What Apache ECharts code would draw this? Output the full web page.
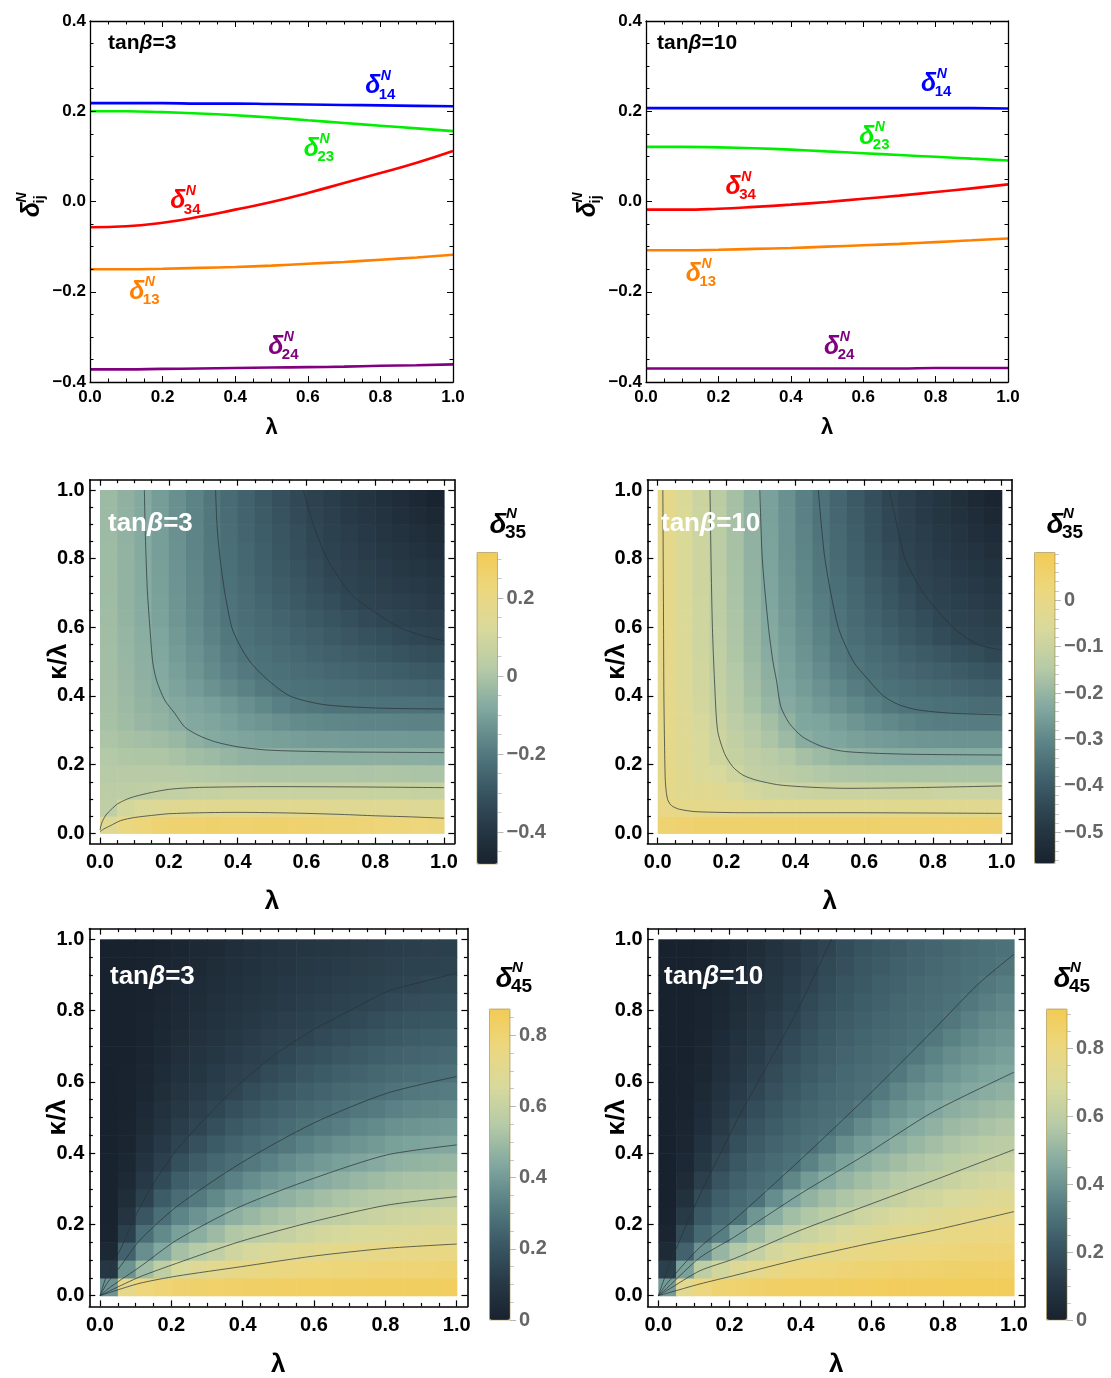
<!DOCTYPE html>
<html><head><meta charset="utf-8">
<script src="https://cdn.jsdelivr.net/npm/echarts@6/dist/echarts.min.js"></script>
<style>html,body{margin:0;padding:0;background:#fff}#c{width:1111px;height:1378px}</style>
</head><body><div id="c"></div>
<script>
// ---------------- DATA ----------------
const lamLine = [0,0.1,0.2,0.3,0.4,0.5,0.6,0.7,0.8,0.9,1.0];
// tan(beta)=3 line panel
const tb3_d14 = [0.218,0.218,0.218,0.217,0.217,0.216,0.215,0.214,0.213,0.212,0.211];
const tb3_d23 = [0.200,0.200,0.198,0.195,0.191,0.186,0.180,0.174,0.168,0.162,0.156];
const tb3_d34 = [-0.057,-0.055,-0.047,-0.034,-0.018,-0.001,0.019,0.041,0.063,0.086,0.112];
const tb3_d13 = [-0.150,-0.150,-0.149,-0.147,-0.145,-0.142,-0.138,-0.134,-0.129,-0.124,-0.118];
const tb3_d24 = [-0.372,-0.372,-0.371,-0.370,-0.369,-0.368,-0.367,-0.366,-0.364,-0.363,-0.361];
// tan(beta)=10 line panel
const tb10_d14 = [0.207,0.207,0.207,0.207,0.207,0.207,0.207,0.207,0.207,0.207,0.206];
const tb10_d23 = [0.121,0.121,0.120,0.118,0.115,0.111,0.107,0.103,0.099,0.095,0.091];
const tb10_d34 = [-0.018,-0.018,-0.016,-0.012,-0.007,-0.001,0.006,0.013,0.021,0.029,0.038];
const tb10_d13 = [-0.108,-0.108,-0.107,-0.105,-0.103,-0.100,-0.097,-0.094,-0.090,-0.086,-0.082];
const tb10_d24 = [-0.370,-0.370,-0.370,-0.370,-0.370,-0.370,-0.370,-0.370,-0.369,-0.369,-0.369];
const lineSubs = ['14','23','34','13','24'];
const tb3_labX = [0.779,0.61,0.242,0.129,0.512];
const tb3_labY = [0.255,0.117,0.0,-0.200,-0.322];
const tb10_labX = [0.781,0.61,0.241,0.131,0.513];
const tb10_labY = [0.261,0.143,0.032,-0.161,-0.322];

// density cells (cell centres for lambda and kappa/lambda)
const cellC = [0.025,0.075,0.125,0.175,0.225,0.275,0.325,0.375,0.425,0.475,0.525,0.575,0.625,0.675,0.725,0.775,0.825,0.875,0.925,0.975];

// delta35, tanb=3 : rows = kappa/lambda (bottom->top), columns = lambda
const d35_tb3_rows = [
[0.15,0.209,0.232,0.247,0.255,0.26,0.264,0.262,0.262,0.264,0.263,0.259,0.255,0.25,0.247,0.24,0.235,0.23,0.227,0.224],
[0.045,0.106,0.126,0.143,0.151,0.155,0.158,0.16,0.161,0.159,0.158,0.156,0.155,0.153,0.151,0.149,0.147,0.145,0.143,0.141],
[0.036,0.041,0.045,0.051,0.055,0.062,0.067,0.071,0.072,0.073,0.072,0.072,0.071,0.071,0.071,0.07,0.07,0.069,0.067,0.065],
[0.024,0.025,0.026,0.027,0.024,0.018,0.015,0.01,0.007,0.005,0.005,0.004,0.003,0.003,0.003,0.002,0.004,0.002,0.0,-0.002],
[0.013,0.008,0.004,0.003,-0.006,-0.021,-0.03,-0.044,-0.054,-0.056,-0.058,-0.06,-0.061,-0.061,-0.062,-0.063,-0.063,-0.064,-0.066,-0.067],
[0.001,-0.008,-0.016,-0.024,-0.038,-0.06,-0.076,-0.085,-0.093,-0.099,-0.105,-0.109,-0.113,-0.115,-0.117,-0.118,-0.118,-0.12,-0.121,-0.122],
[-0.01,-0.025,-0.04,-0.052,-0.067,-0.083,-0.09,-0.103,-0.118,-0.129,-0.143,-0.153,-0.159,-0.165,-0.168,-0.17,-0.171,-0.172,-0.174,-0.174],
[-0.012,-0.029,-0.047,-0.06,-0.082,-0.093,-0.104,-0.121,-0.142,-0.16,-0.182,-0.196,-0.206,-0.214,-0.216,-0.217,-0.221,-0.221,-0.221,-0.222],
[-0.015,-0.035,-0.054,-0.074,-0.095,-0.115,-0.136,-0.157,-0.178,-0.198,-0.214,-0.219,-0.223,-0.228,-0.232,-0.237,-0.241,-0.246,-0.25,-0.255],
[-0.017,-0.038,-0.059,-0.08,-0.104,-0.128,-0.153,-0.177,-0.201,-0.217,-0.224,-0.231,-0.238,-0.246,-0.253,-0.26,-0.267,-0.275,-0.282,-0.289],
[-0.019,-0.041,-0.063,-0.085,-0.111,-0.137,-0.163,-0.19,-0.214,-0.224,-0.234,-0.244,-0.254,-0.264,-0.273,-0.283,-0.293,-0.303,-0.313,-0.323],
[-0.021,-0.044,-0.066,-0.091,-0.119,-0.146,-0.174,-0.202,-0.22,-0.233,-0.245,-0.257,-0.27,-0.282,-0.294,-0.306,-0.319,-0.331,-0.343,-0.351],
[-0.023,-0.047,-0.071,-0.097,-0.126,-0.154,-0.183,-0.211,-0.227,-0.241,-0.256,-0.271,-0.286,-0.301,-0.316,-0.331,-0.345,-0.353,-0.359,-0.366],
[-0.025,-0.049,-0.072,-0.099,-0.128,-0.158,-0.187,-0.215,-0.232,-0.25,-0.268,-0.285,-0.303,-0.321,-0.338,-0.351,-0.358,-0.366,-0.373,-0.381],
[-0.026,-0.05,-0.074,-0.102,-0.132,-0.162,-0.192,-0.219,-0.238,-0.257,-0.276,-0.295,-0.314,-0.334,-0.35,-0.359,-0.368,-0.378,-0.387,-0.396],
[-0.027,-0.051,-0.075,-0.105,-0.135,-0.166,-0.196,-0.222,-0.243,-0.264,-0.285,-0.305,-0.326,-0.347,-0.358,-0.368,-0.379,-0.39,-0.4,-0.411],
[-0.028,-0.052,-0.076,-0.106,-0.137,-0.169,-0.2,-0.226,-0.248,-0.27,-0.292,-0.314,-0.336,-0.353,-0.365,-0.378,-0.39,-0.402,-0.415,-0.427],
[-0.029,-0.053,-0.077,-0.108,-0.139,-0.171,-0.202,-0.228,-0.252,-0.275,-0.298,-0.321,-0.345,-0.359,-0.373,-0.387,-0.401,-0.414,-0.428,-0.442],
[-0.03,-0.054,-0.078,-0.109,-0.14,-0.172,-0.204,-0.231,-0.255,-0.28,-0.305,-0.33,-0.352,-0.367,-0.382,-0.397,-0.412,-0.427,-0.442,-0.457],
[-0.03,-0.055,-0.078,-0.109,-0.141,-0.173,-0.206,-0.233,-0.259,-0.285,-0.311,-0.337,-0.358,-0.374,-0.39,-0.406,-0.423,-0.439,-0.455,-0.472]
];
// delta35, tanb=10 : rows = kappa/lambda, columns = lambda
const d35_tb10_rows = [
[0.045,0.053,0.058,0.059,0.059,0.059,0.059,0.059,0.059,0.059,0.059,0.058,0.058,0.057,0.056,0.056,0.055,0.054,0.054,0.052],
[0.0,-0.012,-0.013,-0.016,-0.02,-0.023,-0.025,-0.026,-0.027,-0.027,-0.027,-0.027,-0.028,-0.028,-0.028,-0.028,-0.029,-0.029,-0.029,-0.029],
[-0.01,-0.026,-0.03,-0.035,-0.05,-0.073,-0.088,-0.092,-0.095,-0.097,-0.097,-0.097,-0.098,-0.098,-0.098,-0.098,-0.099,-0.099,-0.099,-0.099],
[-0.008,-0.026,-0.05,-0.065,-0.087,-0.116,-0.124,-0.132,-0.143,-0.152,-0.158,-0.161,-0.163,-0.163,-0.163,-0.163,-0.163,-0.163,-0.163,-0.163],
[-0.008,-0.034,-0.06,-0.086,-0.107,-0.125,-0.138,-0.152,-0.172,-0.188,-0.2,-0.21,-0.217,-0.222,-0.224,-0.224,-0.225,-0.225,-0.225,-0.225],
[-0.008,-0.036,-0.063,-0.09,-0.118,-0.14,-0.161,-0.187,-0.22,-0.232,-0.239,-0.248,-0.256,-0.261,-0.267,-0.27,-0.273,-0.274,-0.274,-0.274],
[-0.009,-0.04,-0.068,-0.098,-0.13,-0.152,-0.175,-0.206,-0.235,-0.241,-0.254,-0.27,-0.285,-0.296,-0.308,-0.315,-0.32,-0.321,-0.322,-0.322],
[-0.01,-0.044,-0.078,-0.111,-0.14,-0.169,-0.197,-0.226,-0.245,-0.262,-0.28,-0.297,-0.315,-0.332,-0.343,-0.346,-0.349,-0.353,-0.356,-0.359],
[-0.01,-0.046,-0.081,-0.116,-0.147,-0.177,-0.208,-0.235,-0.256,-0.278,-0.299,-0.32,-0.341,-0.348,-0.354,-0.361,-0.368,-0.374,-0.381,-0.388],
[-0.01,-0.047,-0.083,-0.12,-0.151,-0.183,-0.215,-0.242,-0.266,-0.29,-0.315,-0.339,-0.35,-0.359,-0.369,-0.379,-0.388,-0.398,-0.407,-0.417],
[-0.011,-0.048,-0.085,-0.122,-0.156,-0.189,-0.222,-0.249,-0.275,-0.3,-0.326,-0.346,-0.359,-0.371,-0.384,-0.397,-0.409,-0.422,-0.434,-0.447],
[-0.011,-0.049,-0.087,-0.125,-0.16,-0.194,-0.228,-0.255,-0.282,-0.309,-0.336,-0.354,-0.37,-0.386,-0.403,-0.419,-0.435,-0.451,-0.457,-0.462],
[-0.011,-0.05,-0.088,-0.127,-0.162,-0.198,-0.232,-0.26,-0.288,-0.316,-0.343,-0.361,-0.379,-0.397,-0.415,-0.433,-0.451,-0.46,-0.467,-0.474],
[-0.011,-0.05,-0.089,-0.129,-0.165,-0.201,-0.235,-0.264,-0.293,-0.321,-0.347,-0.367,-0.387,-0.407,-0.427,-0.447,-0.459,-0.468,-0.477,-0.486],
[-0.011,-0.051,-0.09,-0.13,-0.167,-0.203,-0.238,-0.267,-0.297,-0.326,-0.352,-0.373,-0.395,-0.416,-0.438,-0.456,-0.466,-0.477,-0.487,-0.498],
[-0.011,-0.051,-0.091,-0.131,-0.169,-0.206,-0.241,-0.271,-0.301,-0.332,-0.357,-0.381,-0.404,-0.427,-0.451,-0.463,-0.475,-0.486,-0.498,-0.51],
[-0.011,-0.051,-0.092,-0.132,-0.17,-0.208,-0.243,-0.274,-0.305,-0.336,-0.362,-0.386,-0.411,-0.436,-0.457,-0.47,-0.483,-0.496,-0.509,-0.522],
[-0.011,-0.052,-0.093,-0.133,-0.171,-0.209,-0.244,-0.276,-0.308,-0.34,-0.366,-0.391,-0.417,-0.443,-0.462,-0.476,-0.491,-0.505,-0.52,-0.534],
[-0.011,-0.052,-0.094,-0.134,-0.172,-0.211,-0.246,-0.278,-0.311,-0.343,-0.369,-0.395,-0.421,-0.448,-0.466,-0.482,-0.498,-0.515,-0.531,-0.547],
[-0.012,-0.053,-0.095,-0.135,-0.173,-0.212,-0.247,-0.28,-0.313,-0.345,-0.372,-0.399,-0.427,-0.454,-0.471,-0.488,-0.505,-0.522,-0.54,-0.557]
];
// delta45, tanb=3 : columns = lambda (left->right), entries = kappa/lambda (bottom->top)
const d45_tb3_cols = [
[0.38,0.094,0.026,0.008,0.005,0.004,0.003,0.003,0.002,0.002,0.002,0.001,0.001,0.001,0.001,0.001,0.0,0.0,0.0,0.0],
[0.728,0.382,0.244,0.133,0.085,0.054,0.034,0.022,0.014,0.009,0.006,0.004,0.003,0.002,0.001,0.001,0.001,0.001,0.0,0.0],
[0.778,0.5,0.37,0.281,0.206,0.138,0.104,0.078,0.059,0.044,0.033,0.025,0.019,0.014,0.011,0.008,0.006,0.005,0.003,0.003],
[0.796,0.582,0.437,0.356,0.28,0.224,0.168,0.128,0.103,0.083,0.067,0.053,0.043,0.035,0.028,0.022,0.018,0.014,0.012,0.009],
[0.808,0.655,0.515,0.416,0.34,0.275,0.231,0.186,0.143,0.12,0.1,0.084,0.07,0.059,0.049,0.041,0.034,0.029,0.024,0.02],
[0.815,0.687,0.55,0.456,0.381,0.312,0.264,0.225,0.187,0.148,0.126,0.108,0.092,0.079,0.067,0.057,0.049,0.042,0.036,0.031],
[0.82,0.712,0.58,0.496,0.418,0.354,0.291,0.256,0.22,0.185,0.15,0.129,0.112,0.097,0.084,0.073,0.063,0.055,0.048,0.041],
[0.826,0.732,0.626,0.537,0.46,0.394,0.334,0.281,0.248,0.215,0.182,0.149,0.13,0.114,0.1,0.088,0.077,0.068,0.06,0.052],
[0.83,0.745,0.648,0.558,0.487,0.42,0.364,0.308,0.269,0.237,0.206,0.174,0.144,0.128,0.113,0.1,0.089,0.079,0.07,0.062],
[0.834,0.755,0.668,0.578,0.511,0.444,0.388,0.334,0.285,0.255,0.226,0.196,0.167,0.141,0.126,0.112,0.1,0.09,0.08,0.071],
[0.836,0.762,0.682,0.597,0.53,0.466,0.409,0.358,0.306,0.271,0.243,0.214,0.186,0.157,0.137,0.123,0.11,0.099,0.089,0.08],
[0.839,0.771,0.698,0.618,0.549,0.487,0.428,0.381,0.334,0.288,0.26,0.232,0.205,0.177,0.149,0.133,0.12,0.108,0.098,0.088],
[0.841,0.778,0.712,0.639,0.569,0.509,0.449,0.4,0.354,0.308,0.274,0.247,0.22,0.192,0.165,0.142,0.128,0.116,0.105,0.095],
[0.843,0.782,0.72,0.651,0.582,0.524,0.466,0.415,0.371,0.326,0.286,0.259,0.232,0.205,0.178,0.151,0.135,0.123,0.112,0.101],
[0.844,0.785,0.727,0.662,0.596,0.538,0.483,0.429,0.386,0.343,0.3,0.27,0.244,0.217,0.191,0.164,0.142,0.129,0.118,0.107],
[0.845,0.789,0.734,0.672,0.609,0.552,0.498,0.445,0.401,0.359,0.317,0.281,0.256,0.23,0.204,0.178,0.153,0.137,0.125,0.114],
[0.846,0.792,0.739,0.68,0.62,0.564,0.513,0.462,0.416,0.375,0.334,0.293,0.267,0.241,0.215,0.19,0.164,0.142,0.13,0.119],
[0.847,0.795,0.743,0.686,0.628,0.572,0.522,0.472,0.425,0.385,0.345,0.305,0.274,0.249,0.224,0.198,0.173,0.148,0.135,0.124],
[0.847,0.796,0.745,0.691,0.634,0.578,0.528,0.478,0.43,0.391,0.352,0.313,0.28,0.255,0.229,0.204,0.179,0.154,0.138,0.126],
[0.848,0.798,0.748,0.695,0.64,0.584,0.534,0.484,0.435,0.396,0.358,0.319,0.285,0.26,0.234,0.209,0.184,0.159,0.14,0.129]
];
// delta45, tanb=10 : columns = lambda, entries = kappa/lambda
const d45_tb10_cols = [
[0.422,0.135,0.041,0.013,0.004,0.001,0.001,0.0,0.0,0.0,0.0,0.0,0.0,0.0,0.0,0.0,0.0,0.0,0.0,0.0],
[0.743,0.438,0.257,0.177,0.112,0.072,0.047,0.03,0.019,0.012,0.008,0.005,0.003,0.002,0.001,0.001,0.0,0.0,0.0,0.0],
[0.806,0.599,0.397,0.275,0.226,0.177,0.133,0.1,0.076,0.058,0.044,0.033,0.025,0.019,0.014,0.011,0.008,0.006,0.005,0.004],
[0.834,0.663,0.503,0.339,0.277,0.241,0.206,0.17,0.137,0.112,0.091,0.074,0.06,0.049,0.039,0.032,0.026,0.021,0.017,0.014],
[0.851,0.715,0.57,0.449,0.305,0.277,0.25,0.222,0.194,0.166,0.14,0.119,0.1,0.085,0.072,0.061,0.052,0.044,0.037,0.031],
[0.861,0.749,0.618,0.514,0.407,0.303,0.279,0.255,0.231,0.207,0.184,0.16,0.138,0.12,0.104,0.09,0.079,0.068,0.059,0.051],
[0.87,0.78,0.673,0.569,0.476,0.381,0.301,0.28,0.259,0.238,0.217,0.196,0.175,0.155,0.137,0.121,0.107,0.095,0.084,0.074],
[0.876,0.798,0.709,0.61,0.53,0.449,0.364,0.299,0.281,0.262,0.244,0.225,0.206,0.188,0.169,0.151,0.135,0.122,0.109,0.098],
[0.88,0.811,0.735,0.643,0.564,0.493,0.421,0.349,0.298,0.282,0.266,0.249,0.233,0.216,0.2,0.184,0.167,0.151,0.137,0.125],
[0.883,0.82,0.754,0.671,0.593,0.529,0.464,0.4,0.337,0.298,0.283,0.268,0.254,0.239,0.224,0.21,0.195,0.18,0.166,0.151],
[0.886,0.828,0.771,0.696,0.618,0.557,0.499,0.441,0.387,0.332,0.298,0.285,0.272,0.259,0.245,0.232,0.219,0.206,0.192,0.179],
[0.888,0.835,0.782,0.717,0.646,0.583,0.528,0.474,0.424,0.375,0.327,0.298,0.286,0.274,0.262,0.25,0.238,0.226,0.214,0.202],
[0.89,0.841,0.792,0.736,0.67,0.605,0.554,0.503,0.453,0.41,0.366,0.322,0.298,0.287,0.276,0.265,0.254,0.243,0.232,0.221],
[0.892,0.846,0.8,0.75,0.689,0.628,0.577,0.529,0.481,0.438,0.399,0.36,0.321,0.299,0.288,0.278,0.268,0.257,0.247,0.236],
[0.893,0.85,0.806,0.762,0.706,0.65,0.597,0.553,0.51,0.466,0.428,0.392,0.356,0.32,0.299,0.29,0.28,0.271,0.261,0.251],
[0.894,0.853,0.812,0.771,0.719,0.664,0.61,0.57,0.531,0.491,0.452,0.419,0.385,0.352,0.318,0.3,0.291,0.282,0.273,0.264],
[0.896,0.857,0.818,0.78,0.735,0.685,0.635,0.591,0.553,0.515,0.477,0.442,0.411,0.38,0.349,0.317,0.3,0.291,0.283,0.274],
[0.897,0.861,0.824,0.788,0.748,0.7,0.653,0.606,0.569,0.532,0.495,0.458,0.43,0.402,0.374,0.347,0.319,0.301,0.293,0.285],
[0.898,0.863,0.829,0.795,0.76,0.714,0.669,0.624,0.585,0.548,0.512,0.476,0.445,0.419,0.394,0.369,0.343,0.318,0.301,0.293],
[0.899,0.866,0.833,0.8,0.768,0.725,0.681,0.637,0.596,0.56,0.525,0.489,0.455,0.431,0.407,0.384,0.36,0.336,0.312,0.3]
];
// contour lines: [lambda, kappa/lambda]
const c35_tb3 = [
[[0.0,0.005],[0.01,0.012],[0.03,0.022],[0.06,0.037],[0.1,0.046],[0.15,0.052],[0.2,0.057],[0.3,0.06],[0.4,0.061],[0.5,0.06],[0.6,0.058],[0.7,0.055],[0.8,0.051],[0.9,0.048],[1.0,0.044]],
[[0.0,0.01],[0.005,0.03],[0.015,0.05],[0.025,0.062],[0.05,0.085],[0.075,0.098],[0.1,0.107],[0.15,0.119],[0.2,0.128],[0.25,0.132],[0.3,0.134],[0.5,0.136],[0.75,0.135],[1.0,0.133]],
[[0.129,1.0],[0.131,0.9],[0.134,0.8],[0.138,0.7],[0.145,0.6],[0.153,0.5],[0.164,0.447],[0.188,0.388],[0.217,0.35],[0.246,0.31],[0.285,0.286],[0.333,0.267],[0.4,0.252],[0.48,0.243],[0.55,0.24],[0.7,0.237],[0.85,0.236],[1.0,0.235]],
[[0.336,1.0],[0.34,0.9],[0.349,0.8],[0.363,0.7],[0.383,0.6],[0.405,0.55],[0.436,0.5],[0.484,0.45],[0.552,0.4],[0.65,0.375],[0.8,0.365],[1.0,0.362]],
[[0.591,1.0],[0.62,0.9],[0.66,0.8],[0.727,0.7],[0.79,0.65],[0.87,0.6],[0.94,0.575],[1.0,0.561]]
];
const c35_tb10 = [
[[0.015,1.0],[0.016,0.8],[0.017,0.6],[0.018,0.4],[0.02,0.25],[0.022,0.155],[0.025,0.12],[0.029,0.098],[0.036,0.085],[0.044,0.078],[0.063,0.07],[0.111,0.063],[0.257,0.06],[0.55,0.06],[0.8,0.059],[1.0,0.058]],
[[0.152,1.0],[0.155,0.8],[0.159,0.6],[0.165,0.447],[0.174,0.3],[0.194,0.233],[0.218,0.194],[0.247,0.17],[0.286,0.155],[0.353,0.141],[0.45,0.134],[0.55,0.131],[0.75,0.133],[1.0,0.138]],
[[0.297,1.0],[0.304,0.8],[0.322,0.6],[0.335,0.5],[0.345,0.447],[0.358,0.369],[0.383,0.32],[0.421,0.281],[0.48,0.252],[0.547,0.238],[0.7,0.231],[0.85,0.229],[1.0,0.228]],
[[0.467,1.0],[0.486,0.8],[0.525,0.6],[0.569,0.5],[0.61,0.45],[0.656,0.4],[0.7,0.375],[0.753,0.36],[0.85,0.35],[1.0,0.345]],
[[0.673,1.0],[0.695,0.9],[0.719,0.8],[0.772,0.7],[0.859,0.6],[0.93,0.55],[1.0,0.534]]
];
const c45_tb3 = [
[[0,0],[0.02,0.06],[0.056,0.128],[0.103,0.231],[0.15,0.315],[0.215,0.409],[0.299,0.502],[0.393,0.596],[0.495,0.68],[0.598,0.746],[0.7,0.8],[0.804,0.853],[0.9,0.88],[1.0,0.905]],
[[0,0],[0.02,0.035],[0.056,0.081],[0.112,0.156],[0.215,0.25],[0.393,0.371],[0.598,0.484],[0.804,0.568],[1.0,0.615]],
[[0,0],[0.03,0.025],[0.112,0.081],[0.215,0.156],[0.393,0.25],[0.598,0.329],[0.804,0.395],[1.0,0.423]],
[[0,0],[0.03,0.015],[0.112,0.053],[0.215,0.091],[0.393,0.152],[0.598,0.208],[0.804,0.254],[1.0,0.278]],
[[0,0],[0.03,0.01],[0.112,0.035],[0.215,0.055],[0.393,0.081],[0.598,0.111],[0.804,0.133],[1.0,0.145]]
];
const c45_tb10 = [
[[0,0],[0.025,0.07],[0.075,0.19],[0.125,0.3],[0.175,0.4],[0.225,0.5],[0.275,0.59],[0.325,0.68],[0.375,0.77],[0.425,0.87],[0.487,1.0]],
[[0,0],[0.025,0.035],[0.117,0.136],[0.211,0.211],[0.398,0.38],[0.586,0.558],[0.773,0.745],[0.9,0.875],[1.0,0.958]],
[[0,0],[0.025,0.022],[0.117,0.107],[0.211,0.163],[0.398,0.285],[0.586,0.398],[0.773,0.516],[1.0,0.627]],
[[0,0],[0.025,0.015],[0.117,0.07],[0.211,0.103],[0.398,0.183],[0.586,0.253],[0.773,0.323],[1.0,0.41]],
[[0,0],[0.025,0.007],[0.117,0.033],[0.211,0.056],[0.398,0.103],[0.586,0.145],[0.773,0.183],[1.0,0.236]]
];
// tick values
const tick01Maj = [0,0.2,0.4,0.6,0.8,1.0];
const tick01Min = [0.05,0.1,0.15,0.25,0.3,0.35,0.45,0.5,0.55,0.65,0.7,0.75,0.85,0.9,0.95];
const tickYMaj = [-0.4,-0.2,0,0.2,0.4];
const tickYMin = [-0.35,-0.3,-0.25,-0.15,-0.1,-0.05,0.05,0.1,0.15,0.25,0.3,0.35];
const cb35_tb3 = {min:-0.482, max:0.317, maj:[-0.4,-0.2,0,0.2], mn:[-0.45,-0.35,-0.3,-0.25,-0.15,-0.1,-0.05,0.05,0.1,0.15,0.25,0.3]};
const cb35_tb10 = {min:-0.567, max:0.103, maj:[-0.5,-0.4,-0.3,-0.2,-0.1,0], mn:[-0.56,-0.54,-0.52,-0.48,-0.46,-0.44,-0.42,-0.38,-0.36,-0.34,-0.32,-0.28,-0.26,-0.24,-0.22,-0.18,-0.16,-0.14,-0.12,-0.08,-0.06,-0.04,-0.02,0.02,0.04,0.06,0.08,0.1]};
const cb45_tb3 = {min:0, max:0.874, maj:[0,0.2,0.4,0.6,0.8], mn:[0.05,0.1,0.15,0.25,0.3,0.35,0.45,0.5,0.55,0.65,0.7,0.75,0.85]};
const cb45_tb10 = {min:0, max:0.915, maj:[0,0.2,0.4,0.6,0.8], mn:[0.05,0.1,0.15,0.25,0.3,0.35,0.45,0.5,0.55,0.65,0.7,0.75,0.85,0.9]};

// ---------------- STYLE / LAYOUT ----------------
const FONT = '"Liberation Sans", Arial, Helvetica, sans-serif';
const LINE_COLORS = ['#0000ff','#00ee00','#ff0000','#ff8000','#800080'];
const CMAP = ['#18222e','#283a47','#3b5a66','#587f83','#82a8a0','#b5caa7','#d8d99c','#ecd780','#f3cb55'];
const PAD = 0.03;
const fmt1 = v => (v < -1e-9 ? '\u2212' : '') + Math.abs(v).toFixed(1);
const fmtCb = v => Math.abs(v) < 1e-9 ? '0' : (v < 0 ? '\u2212' : '') + Math.abs(v).toFixed(1);

const opt = {animation:false, backgroundColor:'#fff', grid:[], xAxis:[], yAxis:[], series:[], visualMap:[], title:[], graphic:[]};

function addGrid(r, extra) {
  opt.grid.push(Object.assign({left:r.left, top:r.top, width:r.width, height:r.height, containLabel:false, outerBoundsMode:'none', show:false}, extra || {}));
  return opt.grid.length - 1;
}
function frameAxes(gi, xr, yr, t, st) {
  const base = (pos, range, vals, len, line) => ({
    type:'value', gridIndex:gi, position:pos, min:range[0], max:range[1],
    axisLine:{show:line, onZero:false, lineStyle:{color:'#000', width:st.lw}},
    axisTick:{show:true, inside:true, length:len, customValues:vals, lineStyle:{color:'#000', width:st.tw}},
    axisLabel:{show:false}, splitLine:{show:false}, splitArea:{show:false}, silent:true, z:10
  });
  const lab = (vals, fmt, margin) => ({show:true, customValues:vals, formatter:fmt, margin:margin, color:'#000', fontFamily:FONT, fontWeight:'bold', fontSize:st.fs});
  const nameStyle = {fontFamily:FONT, fontWeight:'bold', fontSize:st.nfs, color:'#000'};
  const xi = opt.xAxis.length;
  const xb = base('bottom', xr, t.xMaj, st.maj, true);
  xb.axisLabel = lab(t.xMaj, t.xFmt, st.xm);
  xb.name = t.xName; xb.nameLocation = 'middle'; xb.nameGap = st.xng; xb.nameTextStyle = nameStyle; xb.nameMoveOverlap = false;
  opt.xAxis.push(xb, base('bottom', xr, t.xMin, st.mn, false), base('top', xr, t.xMaj, st.maj, true), base('top', xr, t.xMin, st.mn, false));
  const yi = opt.yAxis.length;
  const yl = base('left', yr, t.yMaj, st.maj, true);
  yl.axisLabel = lab(t.yMaj, t.yFmt, st.ym);
  if (t.yName) { yl.name = t.yName; yl.nameLocation = 'middle'; yl.nameGap = st.yng; yl.nameTextStyle = nameStyle; yl.nameMoveOverlap = false; }
  opt.yAxis.push(yl, base('left', yr, t.yMin, st.mn, false), base('right', yr, t.yMaj, st.maj, true), base('right', yr, t.yMin, st.mn, false));
  return [xi, yi];
}
function deltaGroup(x, y, sub, color, s, rot) {
  return {type:'group', x:x, y:y, rotation:rot || 0, silent:true, children:[
    {type:'text', style:{text:'\u03b4', x:0, y:0, fill:color, font:'italic bold ' + s.d + 'px ' + FONT, align:'center', verticalAlign:'middle'}},
    {type:'text', style:{text:'N', x:s.nx, y:s.ny, fill:color, font:'italic bold ' + s.n + 'px ' + FONT, align:'left', verticalAlign:'middle'}},
    {type:'text', style:{text:sub, x:s.sx, y:s.sy, fill:color, font:'bold ' + s.sb + 'px ' + FONT, align:'left', verticalAlign:'middle'}}
  ]};
}
function tanTitle(txt, left, top, size, color) {
  opt.title.push({text:'{a|tan}{b|\u03b2}{a|' + txt + '}', left:left, top:top, padding:0, textStyle:{rich:{
    a:{fontFamily:FONT, fontWeight:'bold', fontSize:size, color:color},
    b:{fontFamily:FONT, fontWeight:'bold', fontStyle:'italic', fontSize:size, color:color}}}});
}
const LABEL_SIZES = {d:25, n:14, nx:8, ny:-10, sb:15, sx:6, sy:8};
function linePanel(fr, ys, labX, labY, tan, tanLeft) {
  const gi = addGrid(fr);
  const st = {lw:1.3, tw:1, maj:6, mn:3.5, fs:17, nfs:22, xm:7, ym:4, xng:35, yng:40};
  const [xi, yi] = frameAxes(gi, [0,1], [-0.4,0.4], {xMaj:tick01Maj, xMin:tick01Min, yMaj:tickYMaj, yMin:tickYMin, xFmt:fmt1, yFmt:fmt1, xName:'\u03bb'}, st);
  ys.forEach((arr, k) => opt.series.push({type:'line', xAxisIndex:xi, yAxisIndex:yi, data:lamLine.map((x, i) => [x, arr[i]]),
    smooth:true, showSymbol:false, silent:true, lineStyle:{color:LINE_COLORS[k], width:2.6}, z:3}));
  opt.series.push({type:'custom', xAxisIndex:xi, yAxisIndex:yi, silent:true, z:5,
    data:labX.map((x, i) => [x, labY[i]]),
    renderItem:(p, api) => { const c = api.coord([api.value(0), api.value(1)]); return deltaGroup(c[0], c[1], lineSubs[p.dataIndex], LINE_COLORS[p.dataIndex], LABEL_SIZES); }});
  tanTitle(tan, tanLeft, fr.top + 12, 21, '#000');
  opt.graphic.push(deltaGroup(fr.left - 58, fr.top + fr.height / 2 + 8, 'ij', '#000', {d:25, n:14, nx:7, ny:-10, sb:15, sx:6, sy:8}, Math.PI / 2));
}
const HX = (cellC[1] - cellC[0]) / 2;
function cellRender(p, api) {
  const x = api.value(0), y = api.value(1);
  const a = api.coord([x - HX, y + HX]), b = api.coord([x + HX, y - HX]);
  return {type:'rect', shape:{x:a[0], y:a[1], width:b[0] - a[0] + 0.6, height:b[1] - a[1] + 0.6}, style:{fill:api.visual('color')}};
}
function heatPanel(dr, vals, layout, contours, cb, cbRect, sub, tan, tanPos, titlePos) {
  const w = dr.x1 - dr.x0, h = dr.y1 - dr.y0;
  const fr = {left:dr.x0 - PAD * w, top:dr.y0 - PAD * h, width:w * (1 + 2 * PAD), height:h * (1 + 2 * PAD)};
  const gi = addGrid(fr);
  const st = {lw:1.6, tw:1.2, maj:6, mn:3.5, fs:20, nfs:26, xm:9, ym:5, xng:45, yng:18};
  const [xi, yi] = frameAxes(gi, [-PAD, 1 + PAD], [-PAD, 1 + PAD], {xMaj:tick01Maj, xMin:tick01Min, yMaj:tick01Maj, yMin:tick01Min, xFmt:fmt1, yFmt:fmt1, xName:'\u03bb', yName:'\u03ba/\u03bb'}, st);
  const data = [];
  for (let j = 0; j < cellC.length; j++) for (let i = 0; i < cellC.length; i++)
    data.push([cellC[i], cellC[j], layout === 'rows' ? vals[j][i] : vals[i][j]]);
  const si = opt.series.length;
  opt.series.push({type:'custom', xAxisIndex:xi, yAxisIndex:yi, data:data, renderItem:cellRender, silent:true, z:1, encode:{x:0, y:1}});
  contours.forEach(c => opt.series.push({type:'line', xAxisIndex:xi, yAxisIndex:yi, data:c, smooth:0.25, showSymbol:false, silent:true,
    lineStyle:{color:'rgba(40,50,55,0.72)', width:1}, z:2}));
  opt.visualMap.push({type:'continuous', seriesIndex:si, dimension:2, min:cb.min, max:cb.max, inRange:{color:CMAP},
    left:cbRect.left, top:cbRect.top, itemWidth:cbRect.w, itemHeight:cbRect.h, padding:0, calculable:false, hoverLink:false,
    text:null, orient:'vertical', realtime:false});
  // colour bar ticks / labels
  const cg = addGrid({left:cbRect.left, top:cbRect.top, width:cbRect.w, height:cbRect.h}, {show:true, borderColor:'rgba(150,125,50,0.55)', borderWidth:1, backgroundColor:'transparent', z:5});
  opt.xAxis.push({type:'value', gridIndex:cg, show:false, min:0, max:1});
  opt.yAxis.push({type:'value', gridIndex:cg, position:'right', min:cb.min, max:cb.max, axisLine:{show:false, onZero:false},
    axisTick:{show:true, inside:false, length:6, customValues:cb.maj, lineStyle:{color:'#b8b8b8', width:1}},
    axisLabel:{show:true, customValues:cb.maj, formatter:fmtCb, margin:9, color:'#666', fontFamily:FONT, fontWeight:'bold', fontSize:20},
    splitLine:{show:false}, silent:true});
  opt.yAxis.push({type:'value', gridIndex:cg, position:'right', min:cb.min, max:cb.max, axisLine:{show:false, onZero:false},
    axisTick:{show:true, inside:false, length:4, customValues:cb.mn, lineStyle:{color:'#c8c8c8', width:1}},
    axisLabel:{show:false}, splitLine:{show:false}, silent:true});
  opt.graphic.push(deltaGroup(titlePos[0], titlePos[1], sub, '#000', {d:28, n:15, nx:8, ny:-11, sb:19, sx:7, sy:8}));
  tanTitle(tan, tanPos[0], tanPos[1], 26, '#fff');
}

// top line panels
linePanel({left:90, top:21, width:363, height:361}, [tb3_d14, tb3_d23, tb3_d34, tb3_d13, tb3_d24], tb3_labX, tb3_labY, '=3', 108);
linePanel({left:646, top:21, width:362, height:361}, [tb10_d14, tb10_d23, tb10_d34, tb10_d13, tb10_d24], tb10_labX, tb10_labY, '=10', 657);
// density panels
heatPanel({x0:100, x1:444, y0:490, y1:833.3}, d35_tb3_rows, 'rows', c35_tb3, cb35_tb3, {left:477, top:552.5, w:20.5, h:311.5}, '35', '=3', [108, 511], [498, 525]);
heatPanel({x0:657.7, x1:1001.7, y0:490, y1:833.3}, d35_tb10_rows, 'rows', c35_tb10, cb35_tb10, {left:1034.5, top:552.5, w:20.5, h:311}, '35', '=10', [661, 511], [1055, 525]);
heatPanel({x0:100, x1:456.7, y0:939.3, y1:1295.7}, d45_tb3_cols, 'cols', c45_tb3, cb45_tb3, {left:489.5, top:1009, w:20.5, h:311}, '45', '=3', [110, 964], [504, 979]);
heatPanel({x0:658.3, x1:1014, y0:939.3, y1:1295.7}, d45_tb10_cols, 'cols', c45_tb10, cb45_tb10, {left:1046.5, top:1009, w:20.5, h:311}, '45', '=10', [664, 964], [1062, 979]);

const chart = echarts.init(document.getElementById('c'), null, {renderer:'canvas'});
chart.setOption(opt);
</script>
</body></html>
